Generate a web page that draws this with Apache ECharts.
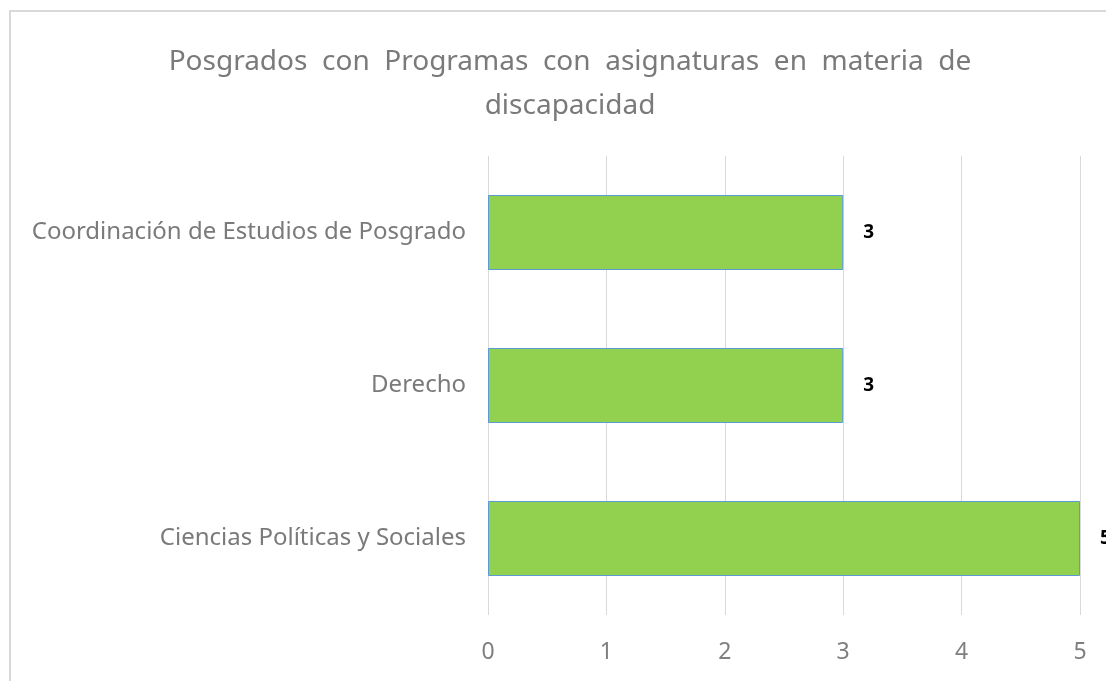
<!DOCTYPE html>
<html>
<head>
<meta charset="utf-8">
<script src="https://cdn.jsdelivr.net/npm/echarts@6/dist/echarts.min.js"></script>
<style>
  html, body { margin: 0; padding: 0; background: #fff; }
  #chart { width: 1106px; height: 681px; }
</style>
</head>
<body>
<div id="chart"></div>
<script>
const titleText = 'Posgrados  con  Programas  con  asignaturas  en  materia  de\ndiscapacidad'
const categories = ['Ciencias Políticas y Sociales', 'Derecho', 'Coordinación de Estudios de Posgrado']
const values = [5, 3, 3]
const xTicks = { min: 0, max: 5, interval: 1 }

const chart = echarts.init(document.getElementById('chart'))
const font = '"Noto Sans", "Open Sans", sans-serif'

const option = {
  animation: false,
  graphic: [{
    type: 'rect',
    shape: { x: 10, y: 11, width: 1200, height: 800 },
    style: { fill: 'none', stroke: '#d9d9d9', lineWidth: 2 },
    silent: true
  }],
  title: {
    text: titleText,
    left: 565,
    textAlign: 'center',
    top: 35,
    textStyle: {
      fontFamily: font,
      fontSize: 28,
      fontWeight: 'normal',
      color: '#7a7a7a',
      lineHeight: 44
    }
  },
  grid: {
    left: 488,
    right: 26,
    top: 156,
    bottom: 66,
    containLabel: false
  },
  xAxis: {
    type: 'value',
    min: xTicks.min,
    max: xTicks.max,
    interval: xTicks.interval,
    axisLine: { show: false },
    axisTick: { show: false },
    splitLine: { lineStyle: { color: '#d9d9d9', width: 1 } },
    axisLabel: {
      margin: 26,
      fontFamily: font,
      fontSize: 23,
      color: '#7f7f7f'
    }
  },
  yAxis: {
    type: 'category',
    data: categories,
    axisLine: { show: false },
    axisTick: { show: false },
    axisLabel: {
      margin: 22,
      fontFamily: font,
      fontSize: 24,
      color: '#7a7a7a'
    }
  },
  series: [{
    type: 'bar',
    data: values,
    barWidth: 75,
    itemStyle: {
      color: '#92d050',
      borderColor: '#5b9bd5',
      borderWidth: 1
    },
    label: {
      show: true,
      position: 'right',
      distance: 20,
      fontFamily: font,
      fontSize: 19,
      fontWeight: 'bold',
      color: '#000'
    }
  }]
}

chart.setOption(option)
</script>
</body>
</html>
